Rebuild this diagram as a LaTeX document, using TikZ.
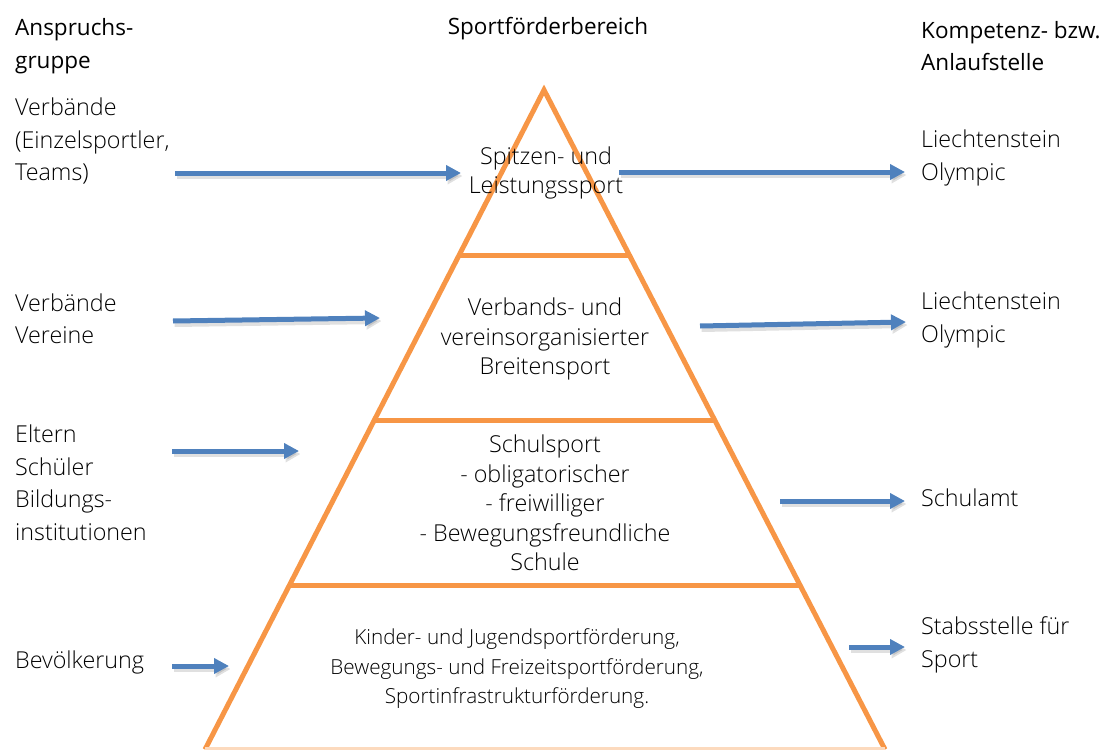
\documentclass[tikz,border=0pt]{standalone}
\usepackage{fontspec}
\setmainfont{Open Sans}[UprightFont=* Light, BoldFont=*]
\newfontfamily\headfont{Open Sans}
\usetikzlibrary{arrows.meta}
\definecolor{pyr}{HTML}{F79646}
\definecolor{arr}{HTML}{4F81BD}
\begin{document}
\begin{tikzpicture}[x=1pt,y=-1pt,
  pyrline/.style={draw=pyr,line width=5pt},
  flow/.style={draw=arr,line width=5pt,-{Triangle[length=15pt,width=15pt]}},
  flowshadow/.style={draw=black,opacity=0.12,line width=6pt,-{Triangle[length=15pt,width=16pt]}},
  side/.style={font=\fontsize{23.3}{32.5}\selectfont,align=left,inner sep=0pt,anchor=west},
  mid/.style={font=\fontsize{23.3}{29.5}\selectfont,align=center,inner sep=0pt},
  base/.style={font=\fontsize{20.7}{29.5}\selectfont,align=center,inner sep=0pt},
  head/.style={font=\headfont\fontsize{22.5}{32.5}\selectfont,inner sep=0pt}]
\useasboundingbox (0,0) rectangle (1110,749);
\clip (0,0) rectangle (1110,749);
% pyramid outline and level dividers
\coordinate (apex) at (544,90);
\coordinate (bl) at (205,749.5);
\coordinate (br) at (885,749.5);
\draw[pyrline,line join=miter] (bl) -- (apex) -- (br);
\draw[pyr!35,line width=5pt] (bl) -- (br);
\draw[pyrline] (459,255) -- (629,255);
\draw[pyrline] (374,420) -- (714,420);
\draw[pyrline] (289,585) -- (799,585);
% headers
\node[head,anchor=west,align=left] (hl) at (15,46) {Anspruchs-\\gruppe};
\node[head] (hm) at (548,29) {Sportförderbereich};
\node[head,anchor=west,align=left] (hr) at (921,46) {Kompetenz- bzw.\\Anlaufstelle};
% stakeholder groups
\node[side] (g1) at (15,141) {Verbände\\(Einzelsportler,\\Teams)};
\node[side] (g2) at (15,319) {Verbände\\Vereine};
\node[side] (g3) at (15,483) {Eltern\\Schüler\\Bildungs-\\institutionen};
\node[side] (g4) at (15,662) {Bevölkerung};
% pyramid levels
\node[mid] (l1) at (546,173) {Spitzen- und\\Leistungssport};
\node[mid] (l2) at (545,339) {Verbands- und\\vereinsorganisierter\\Breitensport};
\node[mid] (l3) at (545,503) {Schulsport\\- obligatorischer\\- freiwilliger\\- Bewegungsfreundliche\\Schule};
\node[base] (l4) at (517,669) {Kinder- und Jugendsportförderung,\\Bewegungs- und Freizeitsportförderung,\\Sportinfrastrukturförderung.};
% competence centres
\node[side] (c1) at (921,158) {Liechtenstein\\Olympic};
\node[side] (c2) at (921,320) {Liechtenstein\\Olympic};
\node[side] (c3) at (921,498) {Schulamt};
\node[side] (c4) at (921,645) {Stabsstelle für\\Sport};
% arrow end points
\coordinate (a1s) at (175,173); \coordinate (a1e) at (461,173);
\coordinate (b1s) at (619,172); \coordinate (b1e) at (905,172);
\coordinate (a2s) at (173,321); \coordinate (a2e) at (380,318);
\coordinate (b2s) at (700,326); \coordinate (b2e) at (906,322);
\coordinate (a3s) at (172,451); \coordinate (a3e) at (299,451);
\coordinate (b3s) at (780,501); \coordinate (b3e) at (905,501);
\coordinate (a4s) at (172,666); \coordinate (a4e) at (229,666);
\coordinate (b4s) at (849,647); \coordinate (b4e) at (905,647);
\foreach \s/\e in {a1s/a1e,b1s/b1e,a2s/a2e,b2s/b2e,a3s/a3e,b3s/b3e,a4s/a4e,b4s/b4e}{
  \draw[flowshadow] ([shift={(1.5,3)}]\s) -- ([shift={(1.5,3)}]\e);
  \draw[flow] (\s) -- (\e);
}
\end{tikzpicture}
\end{document}
